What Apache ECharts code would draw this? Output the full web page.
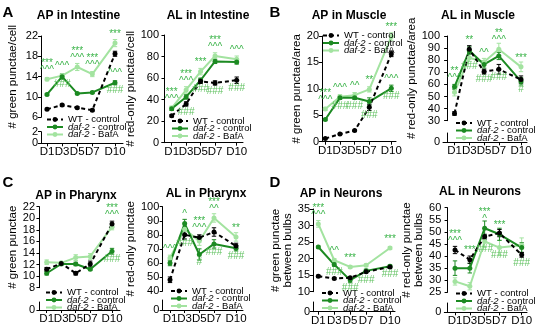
<!DOCTYPE html>
<html>
<head>
	<meta charset="utf-8">
	<title>Autophagy panels</title>
	<style>html,body{margin:0;padding:0;background:#fff;}</style>
</head>
<body>
<script type="text/javascript" src="https://cdn.jsdelivr.net/npm/echarts@6/dist/echarts.min.js"></script>
<div id="container" style="width: 538px;height: 333px;"></div>
<script type="text/javascript">
    // x categories (days) and their tick labels
    var days = [1, 3, 5, 7, 10];
    var dayLabels = ['D1', 'D3', 'D5', 'D7', 'D10'];
    var names = ['WT - control', 'daf-2 - control', 'daf-2 - BafA'];

    // A - AP in intestine
    var apIntWT  = [7.6, 8.4, 7.9, 7.4, 18.5];
    var apIntDaf = [10.5, 14.0, 10.7, 10.9, 12.8];
    var apIntBaf = [13.5, 14.2, 15.9, 14.5, 20.6];
    var apIntErrWT  = [0.2, 0.2, 0.2, 0.2, 0.5];
    var apIntErrDaf = [0.2, 0.5, 0.2, 0.2, 0.4];
    var apIntErrBaf = [0.3, 0.3, 0.7, 0.5, 0.7];
    var apIntMarks = [[0, 'baf', 'top', '***\n^^^'], [1, 'baf', 'top', '^^^'], [1, 'daf', 'bottom', '###'],
        [2, 'baf', 'top', '***\n^^^'], [3, 'baf', 'top', '***\n^^^'], [4, 'baf', 'top', '***'],
        [4, 'daf', 'top', '^^^'], [4, 'daf', 'bottom', '###']];

    // A - AL in intestine
    var alIntWT  = [25, 36, 57, 55.5, 58];
    var alIntDaf = [31.5, 42.5, 58, 75.5, 75];
    var alIntBaf = [32, 49, 66, 80.5, 77.5];
    var alIntErrWT  = [1, 2, 2, 2, 3];
    var alIntErrDaf = [1.5, 2, 2, 2, 2];
    var alIntErrBaf = [2, 3, 3, 3, 3];
    var alIntMarks = [[0, 'baf', 'top', '***\n^^^'], [1, 'baf', 'top', '***\n^^^'], [1, 'wt', 'bottom', '###'],
        [2, 'baf', 'top', '***'], [2, 'wt', 'bottom', '###'], [3, 'baf', 'top', '***\n^^^'],
        [3, 'wt', 'bottom', '###'], [4, 'baf', 'top', '^^^'], [4, 'wt', 'bottom', '###']];

    // B - AP in muscle
    var apMusWT  = [0.6, 1.45, 2.1, 6.5, 16.6];
    var apMusDaf = [4.2, 8.3, 8.3, 7.6, 10.1];
    var apMusBaf = [6.2, 8.5, 8.8, 9.9, 19.9];
    var apMusErrWT  = [0.1, 0.1, 0.1, 0.6, 0.5];
    var apMusErrDaf = [0.2, 0.3, 0.3, 0.7, 0.6];
    var apMusErrBaf = [0.3, 0.4, 0.5, 0.5, 0.7];
    var apMusMarks = [[0, 'baf', 'top', '***\n^^^'], [1, 'baf', 'top', '^^^'], [1, 'daf', 'bottom', '###'],
        [2, 'baf', 'top', '^^'], [2, 'daf', 'bottom', '###'], [3, 'baf', 'top', '**'], [3, 'wt', 'bottom', '###'],
        [4, 'baf', 'top', '***'], [4, 'daf', 'top', '^^^'], [4, 'daf', 'bottom', '###']];

    // B - AL in muscle
    var alMusWT  = [36, 89, 70.5, 72.5, 64];
    var alMusDaf = [58, 88, 76.5, 83.5, 62.5];
    var alMusBaf = [53.5, 82, 78.5, 89, 74.5];
    var alMusErrWT  = [1.5, 3, 2, 4, 3];
    var alMusErrDaf = [2, 3, 3, 3, 3];
    var alMusErrBaf = [3, 3, 3, 5, 4];
    var alMusMarks = [[0, 'daf', 'top', '**\n^^^'], [1, 'wt', 'top', '**'], [1, 'baf', 'bottom', '###'],
        [2, 'baf', 'top', '^^'], [2, 'wt', 'bottom', '###'], [3, 'baf', 'top', '**\n^^^'], [3, 'wt', 'bottom', '###'],
        [4, 'baf', 'top', '***'], [4, 'daf', 'bottom', '#']];

    // C - AP in pharynx
    var apPhaWT  = [11.2, 12.2, 10.5, 12.1, 19.0];
    var apPhaDaf = [10.5, 12.1, 12.1, 11.2, 14.3];
    var apPhaBaf = [12.4, 12.3, 13.2, 13.4, 18.5];
    var apPhaErrWT  = [0.3, 0.2, 0.3, 0.5, 0.5];
    var apPhaErrDaf = [0.3, 0.2, 0.3, 0.2, 0.5];
    var apPhaErrBaf = [0.4, 0.2, 0.5, 0.5, 0.5];
    var apPhaMarks = [[4, 'wt', 'top', '***\n^^^'], [4, 'daf', 'bottom', '###']];

    // C - AL in pharynx
    var alPhaWT  = [48, 80, 78, 82, 72];
    var alPhaDaf = [60, 88, 66, 73.5, 70.5];
    var alPhaBaf = [63.5, 84, 75.5, 92, 78.5];
    var alPhaErrWT  = [2, 3, 2, 3, 2];
    var alPhaErrDaf = [2, 3, 4, 3, 2];
    var alPhaErrBaf = [2, 3, 3, 3, 3];
    var alPhaMarks = [[0, 'baf', 'top', '^^^'], [1, 'daf', 'top', '^'], [1, 'wt', 'bottom', '###'],
        [2, 'wt', 'top', '***\n^^^'], [2, 'daf', 'bottom', '#'], [3, 'baf', 'top', '***\n^^'],
        [3, 'daf', 'bottom', '###'], [4, 'baf', 'top', '**'], [4, 'daf', 'bottom', '###']];

    // D - AP in neurons
    var apNeuWT  = [14.7, 14.0, 14.2, 16.0, 17.5];
    var apNeuDaf = [23.5, 18.2, 13.5, 16.3, 17.7];
    var apNeuBaf = [30.5, 19.5, 17.5, 18.0, 23.2];
    var apNeuErrWT  = [0.3, 0.3, 0.3, 0.3, 0.3];
    var apNeuErrDaf = [0.3, 0.5, 0.8, 0.5, 0.4];
    var apNeuErrBaf = [1, 0.5, 0.4, 0.4, 0.4];
    var apNeuMarks = [[0, 'baf', 'top', '***\n^^^'], [1, 'baf', 'top', '^^'], [1, 'daf', 'bottom', '###'],
        [2, 'baf', 'top', '***'], [2, 'daf', 'bottom', '###'], [3, 'wt', 'bottom', '###'],
        [4, 'baf', 'top', '***'], [4, 'daf', 'bottom', '###']];

    // D - AL in neurons
    var alNeuWT  = [42.5, 38.5, 48, 49.5, 40.5];
    var alNeuDaf = [35, 35, 51.5, 49, 43.5];
    var alNeuBaf = [29.5, 27.5, 46, 43.5, 44.5];
    var alNeuErrWT  = [1.5, 1.5, 1, 1.5, 1];
    var alNeuErrDaf = [3, 2, 3, 2.5, 2];
    var alNeuErrBaf = [1.5, 1.5, 2.5, 3, 3];
    var alNeuMarks = [[0, 'wt', 'top', '***\n^^^'], [1, 'wt', 'top', '***'], [2, 'daf', 'top', '***\n^'],
        [2, 'baf', 'bottom', '###'], [3, 'daf', 'top', '***'], [3, 'baf', 'bottom', '###'], [4, 'wt', 'bottom', '###']];

    var FONT = '"Liberation Sans", Arial, sans-serif';
    var colors = {wt: '#000000', daf: '#1c8a22', baf: '#a3e3a0'};
    var STAR = '#3cb44a', HASH = '#62c262';

    // layout of each panel (pixels)
    var panels = [
        {title: 'AP in Intestine', tx: 78.5, ty: 16, yName: '# green punctae/cell', nameDist: 28, lines: 1,
         axis: 41, d1: 47, d10: 115, xEnd: 123, top: 36, upBottom: 117.3, low: [131.7, 143.3],
         ymin: 6, ymax: 22, step: 4, leg: [46, 114.5],
         wt: apIntWT, daf: apIntDaf, baf: apIntBaf, ewt: apIntErrWT, edaf: apIntErrDaf, ebaf: apIntErrBaf, marks: apIntMarks},
        {title: 'AL in Intestine', tx: 208, ty: 16, yName: '# red-only punctae/cell', nameDist: 25, lines: 1,
         axis: 162, d1: 171.7, d10: 236.7, xEnd: 243, top: 35, upBottom: 142.7, low: null,
         ymin: 0, ymax: 100, step: 20, leg: [171, 116],
         wt: alIntWT, daf: alIntDaf, baf: alIntBaf, ewt: alIntErrWT, edaf: alIntErrDaf, ebaf: alIntErrBaf, marks: alIntMarks},
        {title: 'AP in Muscle', tx: 349, ty: 16, yName: '# green punctae/area', nameDist: 18, lines: 1,
         axis: 322, d1: 325.3, d10: 391.3, xEnd: 396, top: 36, upBottom: 141.7, low: null,
         ymin: 0, ymax: 20, step: 5, leg: [322, 30.5],
         wt: apMusWT, daf: apMusDaf, baf: apMusBaf, ewt: apMusErrWT, edaf: apMusErrDaf, ebaf: apMusErrBaf, marks: apMusMarks},
        {title: 'AL in Muscle', tx: 478, ty: 16, yName: '# red-only punctae/area', nameDist: 25, lines: 1,
         axis: 443, d1: 454.5, d10: 521, xEnd: 527, top: 36, upBottom: 120.7, low: [133, 142.3],
         ymin: 30, ymax: 100, step: 10, leg: [455, 118],
         wt: alMusWT, daf: alMusDaf, baf: alMusBaf, ewt: alMusErrWT, edaf: alMusErrDaf, ebaf: alMusErrBaf, marks: alMusMarks},
        {title: 'AP in Pharynx', tx: 76, ty: 196, yName: '# green punctae', nameDist: 24, lines: 1,
         axis: 38, d1: 46.7, d10: 112, xEnd: 120, top: 206.7, upBottom: 287.7, low: [302, 310],
         ymin: 8, ymax: 22, step: 2, leg: [45, 287.5],
         wt: apPhaWT, daf: apPhaDaf, baf: apPhaBaf, ewt: apPhaErrWT, edaf: apPhaErrDaf, ebaf: apPhaErrBaf, marks: apPhaMarks},
        {title: 'AL in Pharynx', tx: 206, ty: 194, yName: '# red-only punctae', nameDist: 25.6, lines: 1,
         axis: 162.3, d1: 170, d10: 236, xEnd: 243, top: 206.7, upBottom: 291, low: [300, 310],
         ymin: 40, ymax: 100, step: 10, leg: [170, 286],
         wt: alPhaWT, daf: alPhaDaf, baf: alPhaBaf, ewt: alPhaErrWT, edaf: alPhaErrDaf, ebaf: alPhaErrBaf, marks: alPhaMarks},
        {title: 'AP in Neurons', tx: 341, ty: 194, yName: '# green punctae\nbetween bulbs', nameDist: 22.5, lines: 2,
         axis: 313, d1: 318.3, d10: 390, xEnd: 395, top: 209, upBottom: 291.7, low: [302, 311.7],
         ymin: 10, ymax: 35, step: 5, leg: [321, 288],
         wt: apNeuWT, daf: apNeuDaf, baf: apNeuBaf, ewt: apNeuErrWT, edaf: apNeuErrDaf, ebaf: apNeuErrBaf, marks: apNeuMarks},
        {title: 'AL in Neurons', tx: 480, ty: 192, yName: '# red-only punctae\nbetween bulbs', nameDist: 25, lines: 2,
         axis: 444.3, d1: 455, d10: 521.7, xEnd: 527, top: 207.7, upBottom: 292.3, low: [303, 312.3],
         ymin: 25, ymax: 60, step: 5, leg: [455, 288.5],
         wt: alNeuWT, daf: alNeuDaf, baf: alNeuBaf, ewt: alNeuErrWT, edaf: alNeuErrDaf, ebaf: alNeuErrBaf, marks: alNeuMarks}
    ];
    var letters = [['A', 8, 13], ['B', 275, 13], ['C', 8, 183], ['D', 275, 183]];

    function yAxisBase(gi, min, max, step) {
        return {
            gridIndex: gi, type: 'value', min: min, max: max, interval: step,
            axisLine: {show: true, lineStyle: {color: '#000', width: 1}},
            axisTick: {show: true, length: 3, lineStyle: {color: '#000', width: 1}},
            axisLabel: {fontSize: 11, color: '#000', margin: 3, fontFamily: FONT,
                        showMinLabel: true, showMaxLabel: true, hideOverlap: false},
            splitLine: {show: false}
        };
    }
    function xAxisBase(gi, min, max, visible) {
        // a blank label at the axis start takes the "min label" slot, so D1/D3 both stay
        return {
            gridIndex: gi, type: 'value', min: min, max: max, show: visible,
            axisLine: {show: true, onZero: false, lineStyle: {color: '#000', width: 1}},
            axisTick: {show: true, length: 3, customValues: days, lineStyle: {color: '#000', width: 1}},
            axisLabel: {
                customValues: [min].concat(days), fontSize: 11.5, color: '#000', margin: 3, fontFamily: FONT,
                showMinLabel: false, showMaxLabel: true, hideOverlap: false,
                formatter: function (v) { var i = days.indexOf(v); return i < 0 ? '' : dayLabels[i]; }
            },
            splitLine: {show: false}
        };
    }
    function errRenderer(color) {
        return function (params, api) {
            var x = api.value(0);
            var a = api.coord([x, api.value(2)]);
            var b = api.coord([x, api.value(1)]);
            var w = 2.2;
            var st = {stroke: color, lineWidth: 1};
            return {type: 'group', children: [
                {type: 'line', shape: {x1: a[0], y1: a[1], x2: b[0], y2: b[1]}, style: st},
                {type: 'line', shape: {x1: a[0] - w, y1: a[1], x2: a[0] + w, y2: a[1]}, style: st},
                {type: 'line', shape: {x1: b[0] - w, y1: b[1], x2: b[0] + w, y2: b[1]}, style: st}
            ]};
        };
    }
    function markLabel(m) {
        return {show: true, position: m[2], distance: m[2] === 'top' ? 3 : 4, formatter: m[3],
                color: m[3].indexOf('#') >= 0 ? HASH : STAR, fontSize: 10, lineHeight: 7, fontFamily: FONT};
    }

    var grids = [], xAxes = [], yAxes = [], series = [], legends = [], graphics = [];
    panels.forEach(function (p) {
        var ppd = (p.d10 - p.d1) / 9;
        var xMin = 1 - (p.d1 - p.axis) / ppd;
        var xMax = 10 + (p.xEnd - p.d10) / ppd;
        var gi = grids.length;
        grids.push({left: p.axis, top: p.top, width: p.xEnd - p.axis, height: p.upBottom - p.top,
                    containLabel: false, outerBoundsMode: 'none'});
        xAxes.push(xAxisBase(gi, xMin, xMax, !p.low));
        var ya = yAxisBase(gi, p.ymin, p.ymax, p.step);
        ya.name = p.yName;
        ya.nameLocation = 'middle';
        ya.nameRotate = 90;
        ya.nameGap = p.nameDist - p.lines * 12 / 2;
        ya.nameTextStyle = {fontSize: 11.5, color: '#000', fontFamily: FONT, lineHeight: 12};
        yAxes.push(ya);
        if (p.low) {
            grids.push({left: p.axis, top: p.low[0], width: p.xEnd - p.axis, height: p.low[1] - p.low[0],
                        containLabel: false, outerBoundsMode: 'none'});
            xAxes.push(xAxisBase(gi + 1, xMin, xMax, true));
            yAxes.push(yAxisBase(gi + 1, 0, 2, 2));
        }
        ['baf', 'daf', 'wt'].forEach(function (key) {
            var vals = p[key], errs = p['e' + key];
            var col = colors[key];
            var topData = [], botData = [], hasBottom = false;
            days.forEach(function (d, i) {
                var t = {value: [d, vals[i]]}, b = {value: [d, vals[i]]};
                p.marks.forEach(function (m) {
                    if (m[0] !== i || m[1] !== key) return;
                    if (m[2] === 'top') t.label = markLabel(m);
                    else { b.label = markLabel(m); hasBottom = true; }
                });
                topData.push(t);
                botData.push(b);
            });
            series.push({
                type: 'custom', name: key + ' err', xAxisIndex: gi, yAxisIndex: gi, silent: true,
                data: days.map(function (d, i) { return [d, vals[i] - errs[i], vals[i] + errs[i]]; }),
                renderItem: errRenderer(col), z: 2
            });
            series.push({
                type: 'line', name: names[key === 'wt' ? 0 : key === 'daf' ? 1 : 2],
                xAxisIndex: gi, yAxisIndex: gi, data: topData,
                symbol: 'circle', symbolSize: 5, showSymbol: true,
                lineStyle: {color: col, width: 2, type: key === 'wt' ? [4, 3] : 'solid'},
                itemStyle: {color: col},
                label: {show: false}, z: 3, animation: false, silent: true
            });
            if (hasBottom) {
                // bottom-side marks are labels of invisible twin points
                series.push({
                    type: 'line', name: key + ' marks', xAxisIndex: gi, yAxisIndex: gi, data: botData,
                    symbol: 'circle', symbolSize: 1, showSymbol: true,
                    itemStyle: {color: 'rgba(0,0,0,0)'}, lineStyle: {width: 0, opacity: 0},
                    label: {show: false}, z: 4, animation: false, silent: true
                });
            }
        });
        legends.push({
            orient: 'vertical', left: p.leg[0], top: p.leg[1], padding: 0, itemGap: -2.5,
            itemWidth: 16, itemHeight: 6, selectedMode: false, data: names,
            formatter: function (n) { return n.indexOf('daf-2') === 0 ? '{i|daf-2}' + n.slice(5) : n; },
            textStyle: {fontSize: 9.5, color: '#000', fontFamily: FONT, lineHeight: 7,
                        rich: {i: {fontStyle: 'italic', fontSize: 9.5, fontFamily: FONT, lineHeight: 7}}}
        });
        graphics.push({type: 'text', x: p.tx, y: p.ty, silent: true,
            style: {text: p.title, fontSize: 12, fontWeight: 'bold', fontFamily: FONT, fill: '#000',
                    align: 'center', verticalAlign: 'middle'}});
    });
    letters.forEach(function (l) {
        graphics.push({type: 'text', x: l[1], y: l[2], silent: true,
            style: {text: l[0], fontSize: 15, fontWeight: 'bold', fontFamily: FONT, fill: '#000',
                    align: 'center', verticalAlign: 'middle'}});
    });

    var myChart = echarts.init(document.getElementById('container'));
    var option = {
        backgroundColor: '#fff',
        animation: false,
        textStyle: {fontFamily: FONT},
        grid: grids,
        xAxis: xAxes,
        yAxis: yAxes,
        legend: legends,
        series: series,
        graphic: graphics
    };
    myChart.setOption(option);
    window.addEventListener('resize', myChart.resize);
</script>
</body>
</html>
